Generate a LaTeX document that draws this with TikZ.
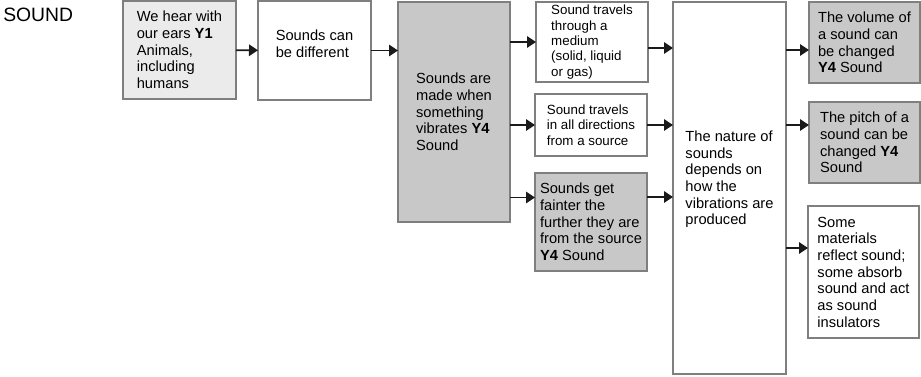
\documentclass[tikz,border=0pt]{standalone}
\usepackage{fontspec}
\setmainfont{Liberation Sans}
\usetikzlibrary{arrows.meta, calc}
\definecolor{boxline}{HTML}{7F7F7F}
\definecolor{boxgray}{HTML}{C8C8C8}
\definecolor{boxlight}{HTML}{EBEBEB}
\definecolor{arrowdark}{HTML}{1A1A1A}

\begin{document}
\begin{tikzpicture}[x=0.75pt, y=-0.75pt,
  box/.style={rectangle, draw=boxline, fill=#1, line width=1.1pt, align=left,
              inner sep=0pt, outer sep=0pt,
              font=\fontsize{11pt}{12.5pt}\selectfont},
  box/.default=white,
  smallbox/.style={box, font=\fontsize{10pt}{11.5pt}\selectfont},
  flow/.style={-{Triangle[length=6.75pt, width=8.5pt]}, line width=1.4pt, arrowdark},
  heading/.style={font=\fontsize{14.5pt}{17pt}\selectfont, inner sep=0pt, anchor=base west}
]
\useasboundingbox (0,0) rectangle (921,376);

\node[heading] (title) at (3,21) {SOUND};

% First column
\node[box=boxlight, minimum width=84.75pt, minimum height=73.5pt] (hear) at (179.5,50)
  {We hear with\\our ears \textbf{Y1}\\Animals,\\including\\humans};
\node[box, minimum width=84.75pt, minimum height=74.25pt, text depth=10pt] (differ) at (314.5,50.5)
  {Sounds can\\be different};
\node[box=boxgray, minimum width=84pt, minimum height=165pt] (made) at (454,112)
  {Sounds are\\made when\\something\\vibrates \textbf{Y4}\\Sound};

% How sound travels
\node[smallbox, minimum width=84pt, minimum height=60pt] (medium) at (592,42)
  {Sound travels\\through a\\medium\\(solid, liquid\\or gas)};
\node[smallbox, minimum width=84pt, minimum height=46.5pt] (directions) at (591,125)
  {Sound travels\\in all directions\\from a source};
\node[box=boxgray, minimum width=84pt, minimum height=73.5pt] (fainter) at (591,222)
  {Sounds get\\fainter the\\further they are\\from the source\\\textbf{Y4} Sound};

\node[box, minimum width=84.75pt, minimum height=279pt, text depth=15pt] (nature) at (729.5,188)
  {The nature of\\sounds\\depends on\\how the\\vibrations are\\produced};

% Last column
\node[box=boxgray, minimum width=83.25pt, minimum height=60.75pt] (volume) at (864.5,42.5)
  {The volume of\\a sound can\\be changed\\\textbf{Y4} Sound};
\node[box=boxgray, minimum width=83.25pt, minimum height=60.75pt] (pitch) at (864.5,142.5)
  {The pitch of a\\sound can be\\changed \textbf{Y4}\\Sound};
\node[box, minimum width=83.25pt, minimum height=99pt] (materials) at (863.5,272)
  {Some\\materials\\reflect sound;\\some absorb\\sound and act\\as sound\\insulators};

% Arrow levels
\coordinate (f1) at ($(fainter.north west)!0.25!(fainter.south west)$);
\coordinate (n1) at (nature.west |- 0,48);
\coordinate (n2) at (nature.west |- 0,125);
\coordinate (n3) at (nature.west |- 0,197);
\coordinate (v1) at (volume.west |- 0,50);
\coordinate (p1) at (pitch.west |- 0,125);
\coordinate (m1) at (materials.west |- 0,248);

\draw[flow] (hear) -- (differ);
\draw[flow] (differ) -- (differ -| made.west);
\draw[flow] (made.east |- medium) -- (medium);
\draw[flow] (made.east |- directions) -- (directions);
\draw[flow] (made.east |- f1) -- (f1);
\draw[flow] (medium.east |- n1) -- (n1);
\draw[flow] (directions.east |- n2) -- (n2);
\draw[flow] (fainter.east |- n3) -- (n3);
\draw[flow] (nature.east |- v1) -- (v1);
\draw[flow] (nature.east |- p1) -- (p1);
\draw[flow] (nature.east |- m1) -- (m1);

\end{tikzpicture}
\end{document}
